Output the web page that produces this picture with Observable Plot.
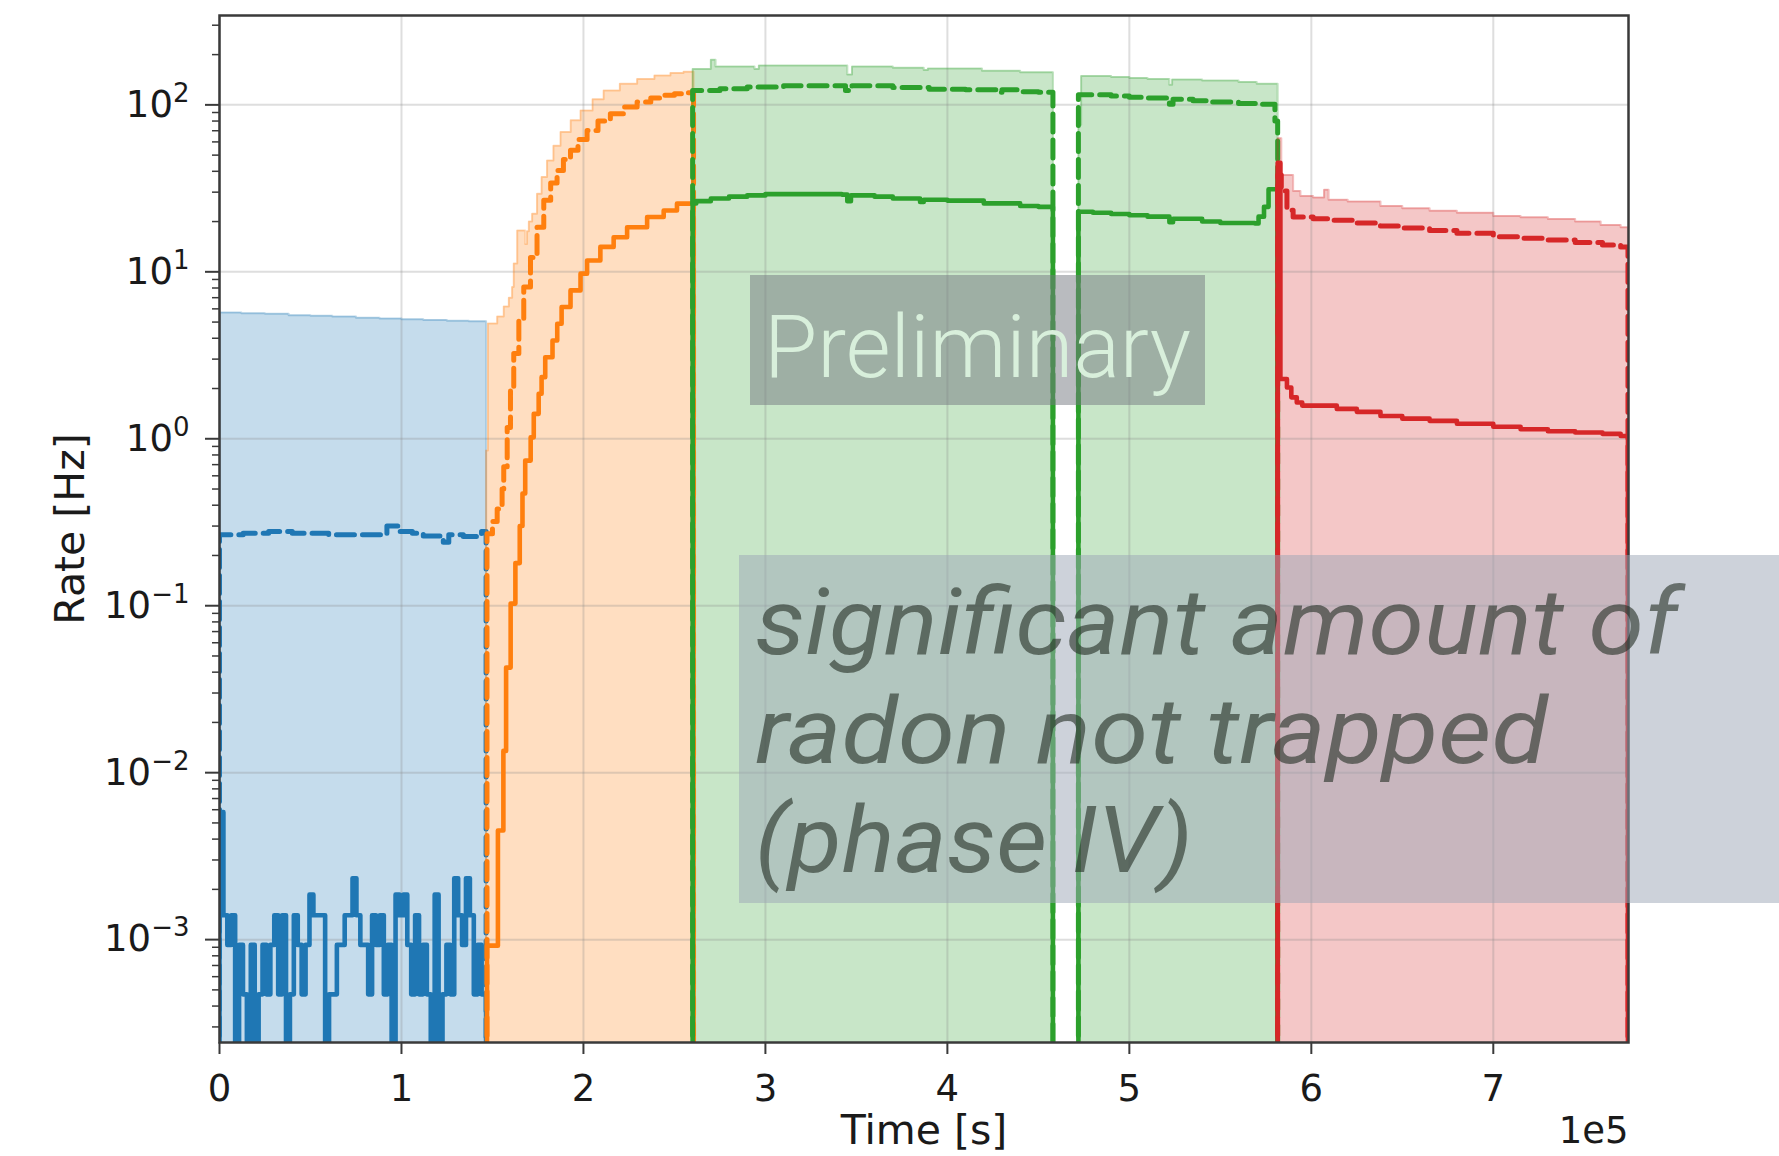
<!DOCTYPE html>
<html><head><meta charset="utf-8">
<script src="https://cdn.jsdelivr.net/npm/d3@7"></script>
<script src="https://cdn.jsdelivr.net/npm/@observablehq/plot@0.6"></script>
<style>
html,body{margin:0;padding:0;background:#fff;}
#wrap{position:relative;width:1779px;height:1156px;overflow:hidden;background:#fff;}
#overlay{position:absolute;left:0;top:0;pointer-events:none;}
</style></head><body><div id="wrap"></div>
<script>
// ---------- data (time in s, rate in Hz) ----------
const xTicks = [0, 100000, 200000, 300000, 400000, 500000, 600000, 700000];
const xTickLabels = ["0", "1", "2", "3", "4", "5", "6", "7"];
const yTicks = [1e-3, 1e-2, 1e-1, 1, 10, 100];
const yTickExps = ["−3", "−2", "−1", "0", "1", "2"];

// phase I (blue)
const blueEnd = 146500;
const blueTotal = [[0,5.7],[12000,5.65],[25000,5.6],[38000,5.5],[50000,5.45],[62000,5.4],[75000,5.3],[88000,5.25],[100000,5.2],[112000,5.15],[125000,5.1],[137000,5.05]];
const blueDashed = [[0,0.266],[13000,0.272],[27000,0.278],[40000,0.272],[60000,0.266],[92000,0.30],[98000,0.278],[106000,0.272],[112000,0.262],[123000,0.24],[126000,0.266],[134000,0.26],[144000,0.278]];
const blueBinWidth = 2150;
const blueSolidMHz = [5.8,1.4,0.93,1.4,0,0.93,0.47,0,0.93,0,
 0.47,0.93,0.47,0.93,1.4,0.47,1.4,0,0.47,1.4,
 0.93,0.47,0.93,1.86,1.4,1.4,1.4,0,0.47,0.47,
 0.93,0.93,1.4,1.4,2.33,1.4,0.93,0.93,0.47,1.4,
 0.93,1.4,0.47,0.93,0,1.86,1.4,1.86,0.93,0.47,
 1.4,0.47,0.93,0.47,0,1.86,0,0.47,0.93,0.47,
 2.33,1.4,0.93,2.33,1.4,0.47,0.93,0.47];

// phase II (orange)
const orangeEnd = 260500;
const orangeTotal = [[146500,0.85],[147500,4.9],[152600,5.4],[156200,6.2],[159000,7.0],[160800,8.1],[161700,11.2],[163600,17.7],[168000,14.7],[169000,17.5],[170000,20],[171800,22.3],[174500,29.4],[177000,37],[180000,46.4],[183500,57],[187400,68.7],[193000,81],[198400,92.6],[205000,108],[211100,122],[220000,134],[229500,143],[239000,150],[247800,155],[255000,158]];
const orangeDashed = [[147000,0.27],[150000,0.32],[152600,0.38],[155300,0.5],[156200,0.68],[158100,1.17],[159900,2.04],[161700,3.24],[164500,5.1],[167200,8.1],[170900,12.2],[174500,18.5],[178200,26.8],[182000,34],[185500,40.5],[189000,47],[192900,53.4],[197000,62],[202000,70.3],[208000,80],[214800,88.4],[222000,97],[229500,104],[237000,110],[244100,114],[250000,116.5],[256900,118]];
const orangeSolid = [[147000,0.00092],[153000,0.0045],[156000,0.0135],[157500,0.0426],[160000,0.103],[162600,0.18],[165000,0.30],[166500,0.47],[168000,0.74],[171000,1.02],[172700,1.41],[175400,1.86],[177000,2.34],[179000,3.08],[183000,3.88],[185600,4.89],[188000,6.15],[192900,7.74],[198400,9.75],[202000,11.7],[209300,14.1],[216600,16.1],[224000,18.5],[235000,21.3],[244100,23.3],[251400,25.6]];

// phase III (green, two runs)
const green1End = 458000;
const green1Total = [[260000,164],[270000,186],[272600,170],[294000,164],[296400,172],[345000,152],[347600,170],[370000,167],[387000,162],[389300,165],[419000,160],[440000,157]];
const green1Dashed = [[260000,122],[275000,125],[290000,128],[310000,130],[344000,122],[347600,130],[370000,127],[390000,124],[410000,123],[427000,119],[430000,123],[440000,120],[450000,119]];
const green1Solid = [[260000,25.7],[262000,26.5],[270000,27.5],[280000,28.2],[290000,28.7],[300000,29.2],[320000,29.2],[342000,29.0],[345000,26.5],[347000,28.7],[360000,28.2],[370000,27.5],[385000,26.2],[387000,27.0],[400000,26.7],[420000,25.7],[440000,24.8],[450000,24.5]];
const green2End = 581500;
const green2Total = [[472000,76],[473500,149],[490000,147],[500000,145],[510000,143],[522000,132],[523500,142],[540000,140],[560000,137],[570000,134]];
const green2Dashed = [[472000,115],[490000,113],[500000,111],[510000,110],[522000,101],[524000,108],[535000,106],[545000,104],[560000,102],[570000,101],[580000,80]];
const green2Solid = [[472000,22.9],[480000,22.6],[490000,22.2],[500000,21.8],[510000,21.4],[522000,19.8],[524000,20.8],[540000,20.0],[550000,19.6],[569000,19.5],[571000,21.4],[574000,24.5],[576500,31.2]];

// phase IV (red)
const redEnd = 774000;
const redTotal = [[581500,63],[583500,38],[590000,30.5],[594000,28.5],[601000,27.9],[607000,31],[609500,27],[620000,26.4],[638000,24.8],[650000,24.0],[665000,23.2],[680000,22.6],[700000,21.6],[715000,21.2],[730000,20.7],[745000,20.0],[759000,19.1],[770000,18.5]];
const redDashed = [[581500,38],[583500,30.5],[586600,23.4],[590000,21.3],[601000,20.8],[610000,20.4],[625000,19.6],[638000,18.8],[650000,18.3],[665000,17.7],[680000,17.0],[700000,16.2],[715000,15.9],[730000,15.5],[745000,15.0],[760000,14.5],[770000,14.1]];
const redSolid = [[581500,45],[583000,2.28],[586600,2.03],[589000,1.77],[592000,1.65],[595000,1.58],[614000,1.51],[625000,1.45],[638000,1.37],[650000,1.32],[665000,1.28],[680000,1.23],[700000,1.18],[715000,1.14],[730000,1.11],[745000,1.09],[760000,1.07],[770000,1.04]];

// ---------- build ----------
const C = {blue:"#1f77b4", orange:"#ff7f0e", green:"#2ca02c", red:"#d62728"};
const blueSolid = blueSolidMHz.map((v,i) => [i*blueBinWidth, v/1000]);
const segments = [
  {c:C.blue, end:blueEnd, total:blueTotal, dashed:blueDashed, solid:blueSolid},
  {c:C.orange, end:orangeEnd, total:orangeTotal, dashed:orangeDashed, solid:orangeSolid},
  {c:C.green, end:green1End, total:green1Total, dashed:green1Dashed, solid:green1Solid},
  {c:C.green, end:green2End, total:green2Total, dashed:green2Dashed, solid:green2Solid},
  {c:C.red, end:redEnd, total:redTotal, dashed:redDashed, solid:redSolid}
];
const yMin = 2.42e-4, yMax = 343, FLOOR = 1e-7;
function stepLine(pairs, end) {
  const p = [{x: pairs[0][0], y: FLOOR}];
  for (const [x, v] of pairs) p.push({x, y: v > 0 ? v : FLOOR});
  const last = pairs[pairs.length-1][1];
  p.push({x: end, y: last > 0 ? last : FLOOR});
  p.push({x: end, y: FLOOR});
  return p;
}
function stepArea(pairs, end) {
  const p = pairs.map(([x, v]) => ({x, y: v}));
  p.push({x: end, y: pairs[pairs.length-1][1]});
  return p;
}
const minorTicks = [];
for (let e = -4; e <= 2; e++) for (let m = 2; m <= 9; m++) { const v = m * Math.pow(10, e); if (v > yMin && v < yMax) minorTicks.push(v); }

const marks = [];
for (const s of segments) {
  marks.push(Plot.areaY(stepArea(s.total, s.end), {x:"x", y1:yMin, y2:"y", curve:"step-after", fill:s.c, fillOpacity:0.26, clip:true}));
}
marks.push(Plot.gridX(xTicks, {stroke:"#888", strokeOpacity:0.28, strokeWidth:2}));
marks.push(Plot.gridY(yTicks, {stroke:"#888", strokeOpacity:0.28, strokeWidth:2}));
for (const s of segments) {
  marks.push(Plot.line(stepLine(s.total, s.end), {x:"x", y:"y", curve:"step-after", stroke:s.c, strokeOpacity:0.3, strokeWidth:2, clip:true}));
  marks.push(Plot.line(stepLine(s.dashed, s.end), {x:"x", y:"y", curve:"step-after", stroke:s.c, strokeWidth:5, strokeDasharray:"18,8", clip:true}));
  marks.push(Plot.line(stepLine(s.solid, s.end), {x:"x", y:"y", curve:"step-after", stroke:s.c, strokeWidth:4.6, clip:true}));
}
marks.push(Plot.frame({stroke:"#3a3a3a", strokeWidth:2.5}));
marks.push(Plot.axisX({ticks:xTicks, tickFormat:(d) => xTickLabels[xTicks.indexOf(d)], tickSize:12, tickPadding:20, label:null, fontSize:37, stroke:"#3a3a3a", strokeWidth:2}));
marks.push(Plot.axisY({ticks:minorTicks, tickFormat:() => "", tickSize:7, label:null, stroke:"#3a3a3a", strokeWidth:1.5}));
marks.push(Plot.axisY({ticks:yTicks, tickFormat:d => "10^" + yTickExps[yTicks.indexOf(d)], tickSize:14, tickPadding:16, label:null, fontSize:37, stroke:"#3a3a3a", strokeWidth:2}));
marks.push(Plot.text(["Rate [Hz]"], {frameAnchor:"left", dx:-149, rotate:-90, textAnchor:"middle", fontSize:41, fill:"#1a1a1a"}));
marks.push(Plot.text(["Time [s]"], {frameAnchor:"bottom", dy:101, fontSize:41, fill:"#1a1a1a"}));
marks.push(Plot.text(["1e5"], {frameAnchor:"bottom-right", dy:100, textAnchor:"end", fontSize:37, fill:"#1a1a1a"}));

const chart = Plot.plot({
  width:1779, height:1156,
  marginLeft:219, marginRight:151, marginTop:15, marginBottom:114,
  x:{domain:[0, 774300]},
  y:{type:"log", domain:[yMin, yMax]},
  style:{fontFamily:"'DejaVu Sans', sans-serif", fontSize:"37px", color:"#1a1a1a", background:"white"},
  marks
});
// superscript exponents on y tick labels
chart.querySelectorAll("text").forEach(t => {
  const s = t.textContent;
  if (s.startsWith("10^")) {
    const exp = s.slice(3);
    t.textContent = "";
    const a = document.createElementNS("http://www.w3.org/2000/svg", "tspan");
    a.textContent = "10";
    const b = document.createElementNS("http://www.w3.org/2000/svg", "tspan");
    b.textContent = exp; b.setAttribute("font-size", "26px"); b.setAttribute("dy", "-15");
    t.appendChild(a); t.appendChild(b);
  }
});
const wrap = document.getElementById("wrap");
wrap.appendChild(chart);

// annotation overlays
const NS = "http://www.w3.org/2000/svg";
const ov = document.createElementNS(NS, "svg");
ov.setAttribute("id", "overlay"); ov.setAttribute("width", 1779); ov.setAttribute("height", 1156);
ov.innerHTML = `
<rect x="750" y="275" width="455" height="130" fill="rgb(115,119,127)" fill-opacity="0.5"/>
<text x="764" y="377" font-family="Roboto, sans-serif" font-weight="300" font-size="88" fill="#d8efdb" textLength="427" lengthAdjust="spacingAndGlyphs">Preliminary</text>
<rect x="739" y="555" width="1040" height="348" fill="rgb(155,165,181)" fill-opacity="0.5"/>
<g font-family="Roboto, sans-serif" font-style="italic" font-size="92" fill="rgb(35,45,35)" fill-opacity="0.6">
<text x="755" y="654" textLength="923" lengthAdjust="spacingAndGlyphs">significant amount of</text>
<text x="755" y="763" textLength="793" lengthAdjust="spacingAndGlyphs">radon not trapped</text>
<text x="755" y="872" textLength="438" lengthAdjust="spacingAndGlyphs">(phase IV)</text>
</g>`;
wrap.appendChild(ov);
</script></body></html>
